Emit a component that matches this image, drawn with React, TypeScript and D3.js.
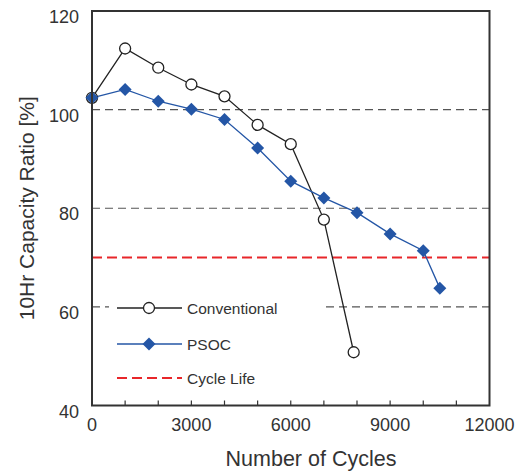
import React from "react";
import * as d3 from "d3";

const convCycles = [0, 1000, 2000, 3000, 4000, 5000, 6000, 7000, 7900];
const convValues = [102.4, 112.4, 108.5, 105.1, 102.7, 96.9, 93.0, 77.7, 50.8];
const psocCycles = [0, 1000, 2000, 3000, 4000, 5000, 6000, 7000, 8000, 9000, 10000, 10500];
const psocValues = [102.4, 104.1, 101.7, 100.1, 98.0, 92.2, 85.5, 82.1, 79.1, 74.8, 71.4, 63.8];
const cycleLife = 70;
const xTickLabels = [0, 3000, 6000, 9000, 12000];
const yTickLabels = [40, 60, 80, 100, 120];
const gridValues = [60, 80, 100];
const legendItems = ["Conventional", "PSOC", "Cycle Life"];

const W = 520, H = 472;
const left = 92, right = 489.5, top = 11, bottom = 405.5;
const FONT = "'Liberation Sans', Arial, Helvetica, sans-serif";

export default function App() {
  const x = d3.scaleLinear().domain([0, 12000]).range([left, right]);
  const y = d3.scaleLinear().domain([40, 120]).range([bottom, top]);
  const line = d3.line<[number, number]>().x(d => x(d[0])).y(d => y(d[1]));
  const conv: [number, number][] = convCycles.map((c, i) => [c, convValues[i]]);
  const psoc: [number, number][] = psocCycles.map((c, i) => [c, psocValues[i]]);
  const minorTicks = d3.range(1000, 12000, 1000);
  const blue = "#2456a6";
  const diamond = (cx: number, cy: number, r: number) =>
    `M${cx},${cy - r}L${cx + r},${cy}L${cx},${cy + r}L${cx - r},${cy}Z`;

  const legX0 = 117, legX1 = 182, legMid = 149, legText = 187;
  const legY = [308, 344, 378];

  return (
    <svg width={W} height={H} style={{ position: "absolute", left: 0, top: 0 }} fontFamily={FONT}>
      <rect width={W} height={H} fill="#fff" />
      {gridValues.map(v => (
        <line key={v} x1={left} x2={right} y1={y(v)} y2={y(v)} stroke="#555" strokeWidth={1.2} strokeDasharray="8,5" />
      ))}
      {/* legend background */}
      <rect x={109} y={290} width={216} height={105} fill="#fff" />
      <line x1={left} x2={right} y1={y(cycleLife)} y2={y(cycleLife)} stroke="#e8262a" strokeWidth={2} strokeDasharray="10,5" />
      <path d={line(conv) || ""} fill="none" stroke="#222" strokeWidth={1.3} />
      <path d={line(psoc) || ""} fill="none" stroke={blue} strokeWidth={1.3} />
      {conv.map((d, i) => (
        <circle key={i} cx={x(d[0])} cy={y(d[1])} r={5.5} fill="#fff" stroke="#222" strokeWidth={1.3} />
      ))}
      {psoc.map((d, i) => (
        <path key={i} d={diamond(x(d[0]), y(d[1]), 6.5)} fill={blue} />
      ))}
      {/* frame */}
      <rect x={left} y={top} width={right - left} height={bottom - top} fill="none" stroke="#333" strokeWidth={2} />
      {minorTicks.map(t => (
        <line key={t} x1={x(t)} x2={x(t)} y1={bottom} y2={bottom - 5} stroke="#333" strokeWidth={1.2} />
      ))}
      {xTickLabels.map(t => (
        <text key={t} x={x(t)} y={431} textAnchor="middle" fontSize={18} fill="#333">{t}</text>
      ))}
      {yTickLabels.map(t => (
        <text key={t} x={79} y={y(t) + 12} textAnchor="end" fontSize={18} fill="#333">{t}</text>
      ))}
      <text x={311} y={466} textAnchor="middle" fontSize={21.5} fill="#333">Number of Cycles</text>
      <text transform={`translate(34,${(top + bottom) / 2}) rotate(-90)`} textAnchor="middle" fontSize={21} fill="#333">10Hr Capacity Ratio [%]</text>
      {/* legend */}
      <line x1={legX0} x2={legX1} y1={legY[0]} y2={legY[0]} stroke="#222" strokeWidth={1.3} />
      <circle cx={legMid} cy={legY[0]} r={5.5} fill="#fff" stroke="#222" strokeWidth={1.3} />
      <line x1={legX0} x2={legX1} y1={legY[1]} y2={legY[1]} stroke={blue} strokeWidth={1.3} />
      <path d={diamond(legMid, legY[1], 6.5)} fill={blue} />
      <line x1={legX0} x2={legX1} y1={legY[2]} y2={legY[2]} stroke="#e8262a" strokeWidth={2} strokeDasharray="10,5" />
      {legendItems.map((s, i) => (
        <text key={s} x={legText} y={legY[i] + 5.5} fontSize={15.5} fill="#333">{s}</text>
      ))}
    </svg>
  );
}
